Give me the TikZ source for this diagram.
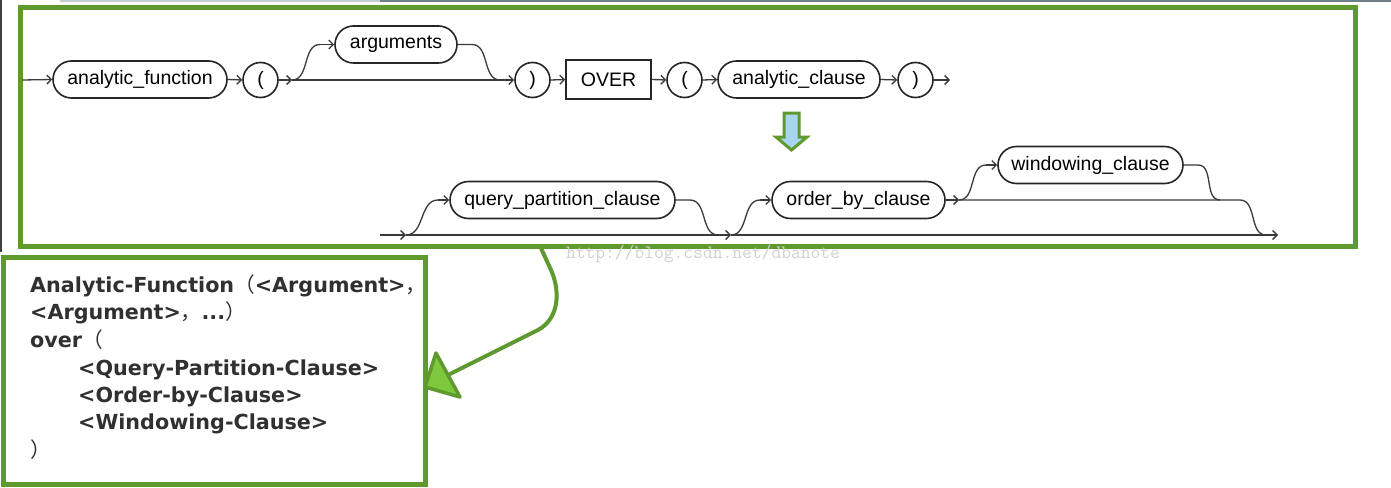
\documentclass[tikz,border=0pt]{standalone}
\usepackage{fontspec}
\setmainfont{Liberation Sans}
\newfontfamily\boxfont{DejaVu Sans}
\newfontfamily\cjk{Noto Sans CJK SC}
\usetikzlibrary{arrows.meta,shapes.misc}
\definecolor{grn}{HTML}{5F9A2E}
\definecolor{lgrn}{HTML}{7DC83C}
\definecolor{lblue}{HTML}{A9D5F0}
\definecolor{txt}{HTML}{303030}
\definecolor{rrl}{HTML}{3A3A3A}
\definecolor{barl}{HTML}{C5CDD3}
\definecolor{bard}{HTML}{6E7F8A}
\tikzset{
  term/.style={rounded rectangle, draw=black!85, line width=1.6pt, minimum height=37pt, inner sep=0pt, font=\fontsize{19.5}{22}\selectfont},
  circ/.style={circle, draw=black!85, line width=1.6pt, minimum size=35pt, inner sep=0pt, font=\fontsize{19.5}{22}\selectfont},
  kw/.style={rectangle, draw=black!85, line width=1.6pt, minimum height=39pt, inner sep=0pt, font=\fontsize{19.5}{22}\selectfont},
  rr/.style={draw=rrl, line width=1.3pt},
  arr/.style={rr, -{Straight Barb[length=4.5pt,width=9pt,line width=1.3pt]}},
  bt/.style={anchor=base west, inner sep=0pt, text=txt, font=\boxfont\bfseries\fontsize{20.7}{24}\selectfont},
  frame/.style={draw=grn, line width=5pt},
}
\begin{document}
\begin{tikzpicture}[x=1pt,y=-1pt]
\fill[white] (0,0) rectangle (1391,487);
\useasboundingbox (0,0) rectangle (1391,487);
% screenshot edges
\fill[black!75] (0,0) rectangle (1.5,252);
\fill[barl] (60,0) rectangle (380,1.6);
\fill[bard] (380,0) rectangle (1391,1.6);

% frames
\draw[frame] (20,7.5) rectangle (1355,246);
\draw[frame] (3.5,257.5) rectangle (425.5,484.5);

% ---------- top railroad ----------
\node[term, minimum width=174pt] (af) at (140,79.5) {analytic\_function};
\node[circ] (lp1) at (260.5,80) {(};
\node[term, minimum width=122pt] (args) at (396,44.5) {arguments};
\node[circ] (rp1) at (532.5,80) {)};
\node[kw, minimum width=85pt] (over) at (608.5,79.5) {OVER};
\node[circ] (lp2) at (684.5,80) {(};
\node[term, minimum width=162pt] (ac) at (799,79.5) {analytic\_clause};
\node[circ] (rp2) at (915.5,80) {)};

\coordinate (s1) at (22,80);
\coordinate (j1) at (292,80);
\coordinate (b1) at (320,44.5);
\coordinate (b2) at (472,44.5);
\coordinate (b3) at (500,80);
\coordinate (e1) at (950,80);

\draw[arr] (s1) -- (af.west);
\draw[arr] (af.east) -- (lp1.west);
\draw[arr] (lp1.east) -- (j1);
\draw[arr] (j1) -- (rp1.west);
\draw[rr] (j1) to[out=0,in=180] (b1);
\draw[arr] (b1) -- (args.west);
\draw[rr] (args.east) -- (b2) to[out=0,in=180] (b3);
\draw[arr] (rp1.east) -- (over.west);
\draw[arr] (over.east) -- (lp2.west);
\draw[arr] (lp2.east) -- (ac.west);
\draw[arr] (ac.east) -- (rp2.west);
\draw[arr] (rp2.east) -- (e1);

% down arrow
\draw[draw=grn, line width=3pt, fill=lblue, line join=miter]
  (784,113) -- (799,113) -- (799,137) -- (807,137) -- (791.5,150) -- (776,137) -- (784,137) -- cycle;

% ---------- lower railroad ----------
\node[term, minimum width=225pt] (qpc) at (562.5,200) {query\_partition\_clause};
\node[term, minimum width=173pt] (obc) at (858.5,200) {order\_by\_clause};
\node[term, minimum width=185pt] (wc) at (1090.5,165) {windowing\_clause};

\coordinate (s2) at (380,235);
\coordinate (j2) at (406,235);
\coordinate (c1) at (438,200);
\coordinate (c2) at (690,200);
\coordinate (c3) at (718,235);
\coordinate (j3) at (731,235);
\coordinate (c4) at (760,200);
\coordinate (j4) at (959,200);
\coordinate (c5) at (986,165);
\coordinate (c6) at (1198,165);
\coordinate (c7) at (1220,200);
\coordinate (c8) at (1240,200);
\coordinate (c9) at (1266,235);
\coordinate (e2) at (1278,235);

\draw[arr] (s2) -- (j2);
\draw[rr] (j2) to[out=0,in=180] (c1);
\draw[arr] (c1) -- (qpc.west);
\draw[arr] (j2) -- (j3);
\draw[rr] (qpc.east) -- (c2) to[out=0,in=180] (c3);
\draw[rr] (j3) to[out=0,in=180] (c4);
\draw[arr] (c4) -- (obc.west);
\draw[arr] (j3) -- (e2);
\draw[arr] (obc.east) -- (j4);
\draw[rr] (j4) -- (c8) to[out=0,in=180] (c9);
\draw[rr] (j4) to[out=0,in=180] (c5);
\draw[arr] (c5) -- (wc.west);
\draw[rr] (wc.east) -- (c6) to[out=0,in=180] (c7);

% watermark
\node[text=black!18, font=\ttfamily\fontsize{19}{20}\selectfont, inner sep=0pt] (wm) at (703,254) {http://blog.csdn.net/dbanote};

% big green arrow
\coordinate (g0) at (540,246);
\coordinate (g1) at (551,270);
\coordinate (g2) at (538,330);
\coordinate (g3) at (450,374);
\draw[grn, line width=4pt, line cap=round] (g0) -- (g1) .. controls (560,290) and (560,318) .. (g2) -- (g3);
\draw[draw=grn, fill=lgrn, line width=3.5pt, line join=round] (436,353) -- (460,397) -- (425,387) -- cycle;

% text box
\node[bt] (t1) at (30,292) {Analytic-Function{\cjk\mdseries （}<Argument>{\cjk\mdseries ，}};
\node[bt] (t2) at (30,319.5) {<Argument>{\cjk\mdseries ，}...{\cjk\mdseries ）}};
\node[bt] (t3) at (30,347) {over{\cjk\mdseries （}};
\node[bt] (t4) at (78,375) {<Query-Partition-Clause>};
\node[bt] (t5) at (78,402) {<Order-by-Clause>};
\node[bt] (t6) at (78,429.5) {<Windowing-Clause>};
\node[bt] (t7) at (30,457) {{\cjk\mdseries ）}};
\end{tikzpicture}
\end{document}
